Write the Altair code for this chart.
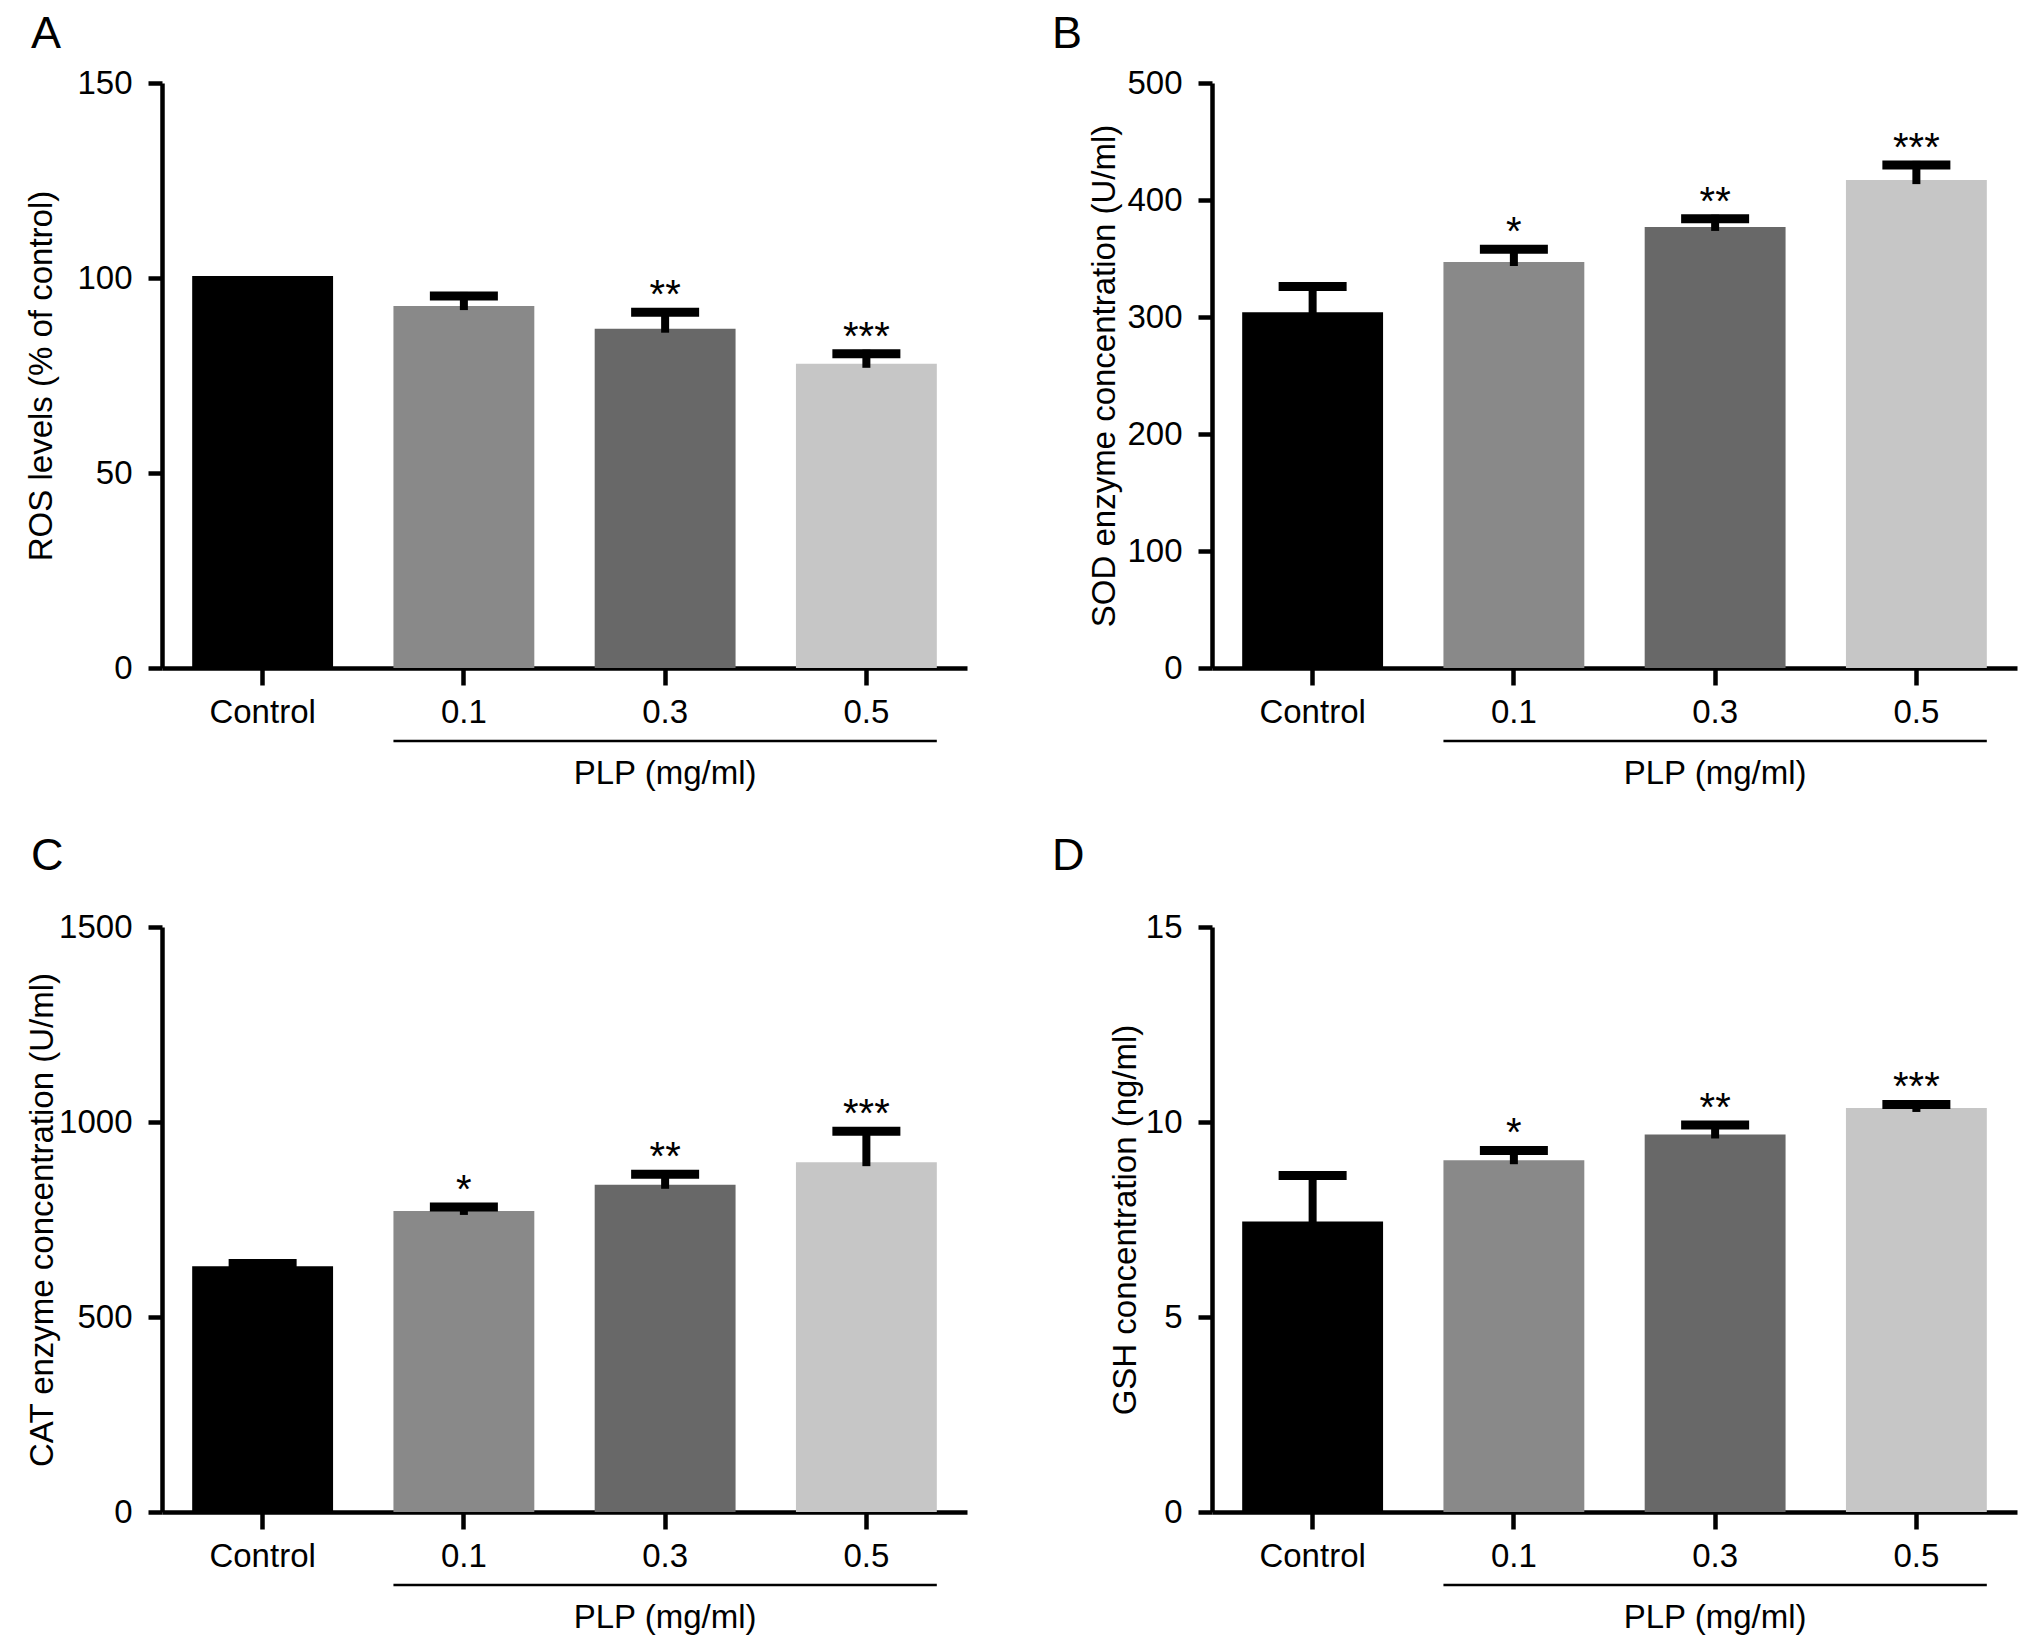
import altair as alt
import pandas as pd

FONT = "Liberation Sans"
W, H = 805, 585

groups = ["Control", "0.1", "0.3", "0.5"]
bar_colors = ["#000000", "#898989", "#686868", "#c6c6c6"]

ros_mean = [100.5, 92.8, 87.0, 78.0]
ros_sem = [0.0, 2.6, 4.2, 2.6]
ros_sig = ["", "", "**", "***"]

sod_mean = [304, 347, 377, 417]
sod_sem = [22, 11, 7, 13]
sod_sig = ["", "*", "**", "***"]

cat_mean = [630, 772, 839, 897]
cat_sem = [7, 10, 27, 79]
cat_sig = ["", "*", "**", "***"]

gsh_mean = [7.45, 9.02, 9.68, 10.36]
gsh_sem = [1.18, 0.25, 0.24, 0.09]
gsh_sig = ["", "*", "**", "***"]

dose_label = "PLP (mg/ml)"
dose_start, dose_mid, dose_end = "0.1", "0.3", "0.5"


def panel(letter, letter_dx, letter_offset, mean, sem, sig, ytitle, title_x, ymax, yticks):
    df = pd.DataFrame({
        "group": groups,
        "mean": mean,
        "sem": sem,
        "upper": [m + s for m, s in zip(mean, sem)],
        "sig": sig,
    })
    span = pd.DataFrame({"start": [dose_start], "mid": [dose_mid],
                         "end": [dose_end], "label": [dose_label]})

    xscale = alt.Scale(domain=groups, paddingInner=0.3, paddingOuter=0.15)
    yscale = alt.Scale(domain=[0, ymax], nice=False)
    xaxis = alt.Axis(labelAngle=0, tickSize=17, labelPadding=11)
    yaxis = alt.Axis(values=yticks, format="d", tickSize=14, labelPadding=16,
                     titleX=title_x, titleY=H / 2, titleBaseline="middle")

    def xenc(field="group"):
        return alt.X(f"{field}:N", scale=xscale, sort=groups, title=None, axis=xaxis)

    bars = alt.Chart(df).mark_bar().encode(
        x=xenc(),
        y=alt.Y("mean:Q", scale=yscale, title=ytitle, axis=yaxis),
        color=alt.Color("group:N", scale=alt.Scale(domain=groups, range=bar_colors), legend=None),
    )
    err = alt.Chart(df).transform_filter("datum.sem > 0")
    stem = err.mark_rule(color="black", strokeWidth=8, strokeCap="square").encode(
        x=xenc(), y=alt.Y("mean:Q", title=ytitle), y2="upper:Q"
    )
    cap = err.mark_tick(color="black", size=68, thickness=9, opacity=1).encode(
        x=xenc(), y=alt.Y("upper:Q", title=ytitle)
    )
    stars = alt.Chart(df).mark_text(font=FONT, fontSize=40, baseline="alphabetic", dy=-4,
                                    color="black").encode(
        x=xenc(), y=alt.Y("upper:Q", title=ytitle), text="sig:N"
    )
    bracket = alt.Chart(span).mark_rule(color="black", strokeWidth=2.5).encode(
        x=alt.X("start:N", scale=xscale, bandPosition=0, title=None, axis=xaxis),
        x2=alt.X2("end:N", bandPosition=1),
        y=alt.value(H + 73),
    )
    plp = alt.Chart(span).mark_text(font=FONT, fontSize=33, baseline="middle",
                                    color="black").encode(
        x=xenc("mid"), y=alt.value(H + 106), text="label:N"
    )
    return alt.layer(bars, stem, cap, stars, bracket, plp).properties(
        width=W, height=H,
        title=alt.TitleParams(letter, anchor="start", frame="group", dx=letter_dx,
                              offset=letter_offset, fontSize=45, fontWeight="normal",
                              font=FONT, color="black"),
    )


a = panel("A", -131, 10, ros_mean, ros_sem, ros_sig, "ROS levels (% of control)", -121, 150,
          [0, 50, 100, 150])
b = panel("B", -160, 10, sod_mean, sod_sem, sod_sig, "SOD enzyme concentration (U/ml)", -108, 500,
          [0, 100, 200, 300, 400, 500])
c = panel("C", -131, 32, cat_mean, cat_sem, cat_sig, "CAT enzyme concentration (U/ml)", -120, 1500,
          [0, 500, 1000, 1500])
d = panel("D", -160, 32, gsh_mean, gsh_sem, gsh_sig, "GSH concentration (ng/ml)", -87, 15,
          [0, 5, 10, 15])

chart = alt.concat(
    a, b, c, d, columns=2, spacing={"row": 259, "column": 245}, bounds="flush",
    padding={"left": 17, "top": 4, "right": 5, "bottom": 0}, background="white",
).configure_axis(
    domainColor="black", tickColor="black", labelColor="black", titleColor="black",
    domainWidth=4.5, tickWidth=4.5, labelFont=FONT, titleFont=FONT,
    labelFontSize=33, titleFontSize=33, titleFontWeight="normal", grid=False,
).configure_view(strokeWidth=0)

chart.save("out.html", embed_options={"renderer": "svg", "actions": False})
